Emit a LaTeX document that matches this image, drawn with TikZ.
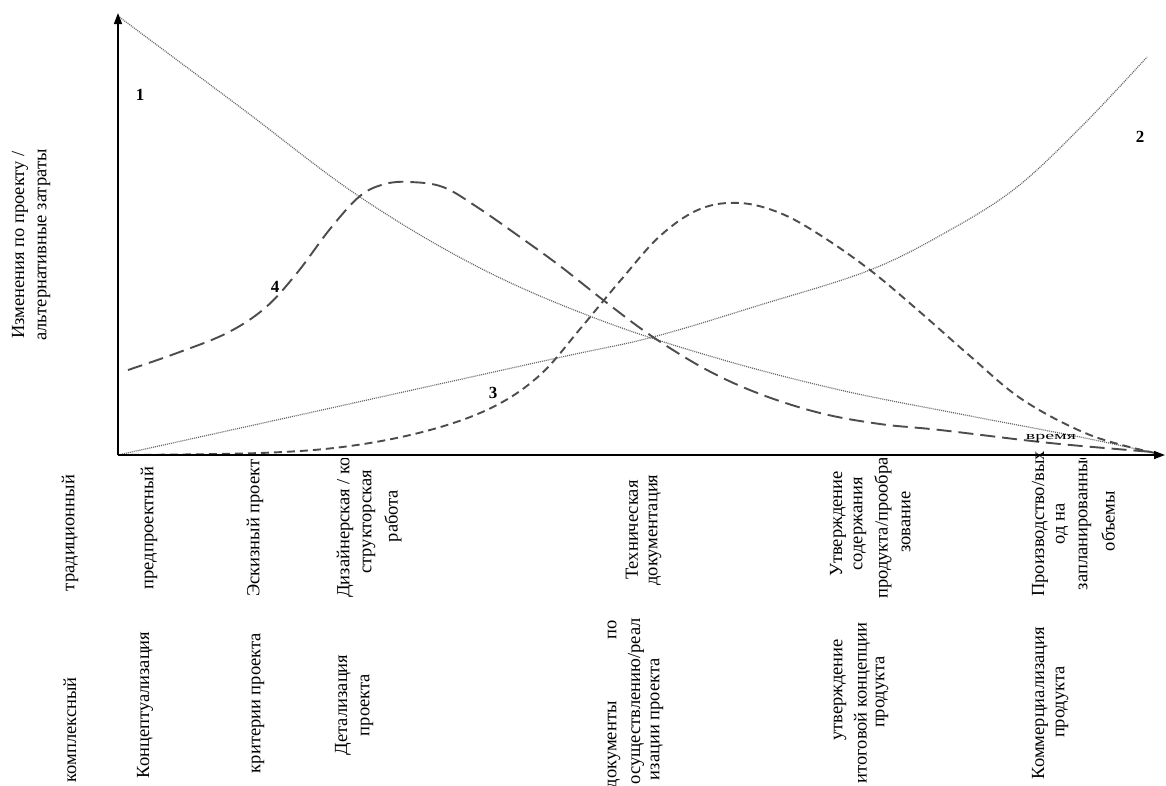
\documentclass[tikz,border=0pt]{standalone}
\usepackage{fontspec}
\setmainfont{Liberation Serif}
\usetikzlibrary{arrows.meta}
\begin{document}
\begin{tikzpicture}[x=1pt,y=-1pt,
  lbl/.style={rotate=90,inner sep=0pt,font=\fontsize{18.5}{22}\selectfont},
  num/.style={inner sep=0pt,font=\fontsize{17}{20}\selectfont\bfseries},
  axis/.style={line width=1.6pt,-{Triangle[length=11pt,width=8pt]}},
  cfine/.style={line width=1.2pt,black!60,dash pattern=on 1pt off 1pt},
  cmed/.style={line width=1.9pt,black!70,dash pattern=on 8pt off 5pt},
  clong/.style={line width=1.9pt,black!70,dash pattern=on 15pt off 7pt},
]
\useasboundingbox (0,0) rectangle (1166,785);
\fill[white] (0,0) rectangle (1166,785);
\coordinate (O) at (118,455);
\coordinate (Ytip) at (118,13);
\coordinate (Xtip) at (1165,455);

% curves
\draw[cfine] plot[smooth,tension=0.6] coordinates {(118,16) (240,107) (360,197) (480,268) (600,320) (720,359) (840,390) (960,414) (1080,437) (1155,453)};
\draw[cfine] plot[smooth,tension=0.6] coordinates {(118,455) (340,406) (557,358) (653,337) (760,305) (870,270) (950,230) (1017,187) (1083,125) (1147,57)};
\draw[cmed] plot[smooth,tension=0.6] coordinates {(118,455) (260,453) (350,446) (430,430) (493,407) (540,375) (580,329) (620,281) (660,236) (700,209) (740,203) (780,213) (820,235) (870,270) (920,312) (970,356) (1023,400) (1090,435) (1155,453)};
\draw[clong] plot[smooth,tension=0.6] coordinates {(128,370) (177,353) (227,333) (265,308) (297,273) (330,229) (360,196) (385,184) (410,182) (443,187) (477,207) (520,237) (560,266) (607,303) (653,337) (707,370) (760,394) (820,413) (880,424) (940,430) (1050,443) (1153,452)};

% axes
\draw[axis] (O) -- (Ytip);
\draw[axis] (O) -- (Xtip);

% curve numbers
\node[num] (n1) at (140,95) {1};
\node[num] (n2) at (1140,137) {2};
\node[num] (n3) at (493,393) {3};
\node[num] (n4) at (275,287) {4};

% y-axis label
\node[lbl] (ya) at (20,245) {Изменения по проекту /};
\node[lbl] (yb) at (44,245) {альтернативные затраты};

% x-axis label
\node[inner sep=0pt,font=\fontsize{20}{22}\selectfont] (vr) at (1051,438) {\scalebox{1}[0.55]{время}};

% top row of stages
\begin{scope}
\clip (0,458) rectangle (1166,620);
\node[lbl] (a1) at (70,533) {традиционный};
\node[lbl] (a2) at (149,528) {предпроектный};
\node[lbl,anchor=west] (a3) at (255,597) {Эскизный проект};
\node[lbl,anchor=west] (a4) at (345,598) {Дизайнерская / кон};
\node[lbl] (a5) at (369,522) {структорская};
\node[lbl] (a6) at (393,516) {работа};
\node[lbl] (a7) at (632,530) {Техническая};
\node[lbl] (a8) at (655,530) {документация};
\node[lbl] (a9) at (838,524) {Утверждение};
\node[lbl] (a10) at (860,524) {содержания};
\node[lbl] (a11) at (883,528) {продукта/прообра};
\node[lbl] (a12) at (906,522) {зование};
\node[lbl] (a14) at (1062,524) {од на};
\node[lbl] (a15) at (1085,521) {запланированные};
\node[lbl] (a16) at (1108,521) {объемы};
\end{scope}
\node[lbl,anchor=west] (a13) at (1040,597) {Производство/вых};

% bottom row of stages
\begin{scope}
\clip (0,618) rectangle (1166,785);
\node[lbl,anchor=east] (b1) at (70,677) {комплексный};
\node[lbl] (b2) at (145,705) {Концептуализация};
\node[lbl] (b3) at (258,703) {критерии проекта};
\node[lbl] (b4) at (343,705) {Детализация};
\node[lbl] (b5) at (367,705) {проекта};
\node[lbl,anchor=east] (b6) at (614,620) {\makebox[168pt]{документы\hfill по}};
\node[lbl,anchor=east] (b7) at (636,618) {осуществлению/реал};
\node[lbl,anchor=east] (b8) at (657,658) {изации проекта};
\node[lbl] (b9) at (840,690) {утверждение};
\node[lbl] (b10) at (862,703) {итоговой концепции};
\node[lbl] (b11) at (882,692) {продукта};
\node[lbl] (b12) at (1040,703) {Коммерциализация};
\node[lbl] (b13) at (1062,702) {продукта};
\end{scope}
\end{tikzpicture}
\end{document}
